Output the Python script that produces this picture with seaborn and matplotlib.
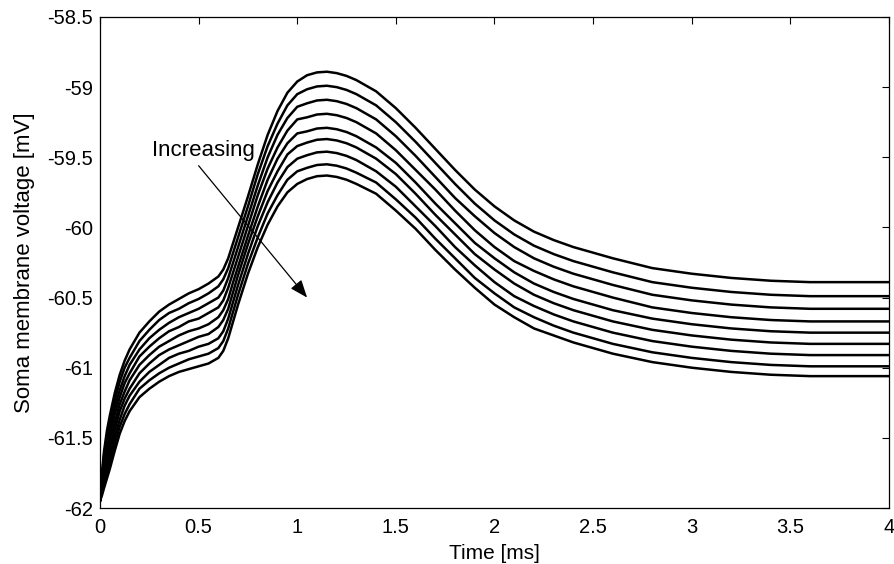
import numpy as np
import pandas as pd
import matplotlib
matplotlib.use("Agg")
import matplotlib.pyplot as plt
import seaborn as sns

# time axis [ms]
time_ms = [0, 0.01, 0.02, 0.035, 0.05, 0.075, 0.1, 0.125, 0.15,
           0.2, 0.25, 0.3, 0.35, 0.4, 0.45, 0.5, 0.55, 0.6,
           0.625, 0.65, 0.675, 0.7, 0.75, 0.8, 0.85, 0.9, 0.95, 1.0,
           1.05, 1.1, 1.15, 1.2, 1.25, 1.3, 1.4, 1.5, 1.6, 1.7,
           1.8, 1.9, 2.0, 2.1, 2.2, 2.3, 2.4, 2.6, 2.8, 3.0,
           3.2, 3.4, 3.6, 3.8, 4.0]

# soma membrane voltage [mV], one list per curve (top to bottom)
v1 = [-61.95, -61.75, -61.60, -61.45, -61.34, -61.18, -61.05, -60.95, -60.87,
      -60.75, -60.67, -60.60, -60.55, -60.51, -60.47, -60.44, -60.40, -60.35,
      -60.30, -60.22, -60.11, -60.00, -59.78, -59.55, -59.34, -59.17, -59.04, -58.96,
      -58.915, -58.895, -58.89, -58.90, -58.92, -58.95, -59.03, -59.15, -59.29, -59.44,
      -59.59, -59.73, -59.85, -59.95, -60.03, -60.09, -60.14, -60.22, -60.29, -60.33,
      -60.36, -60.38, -60.39, -60.39, -60.39]
v2 = [-61.95, -61.77, -61.63, -61.49, -61.39, -61.23, -61.10, -61.00, -60.93,
      -60.81, -60.73, -60.66, -60.61, -60.58, -60.54, -60.51, -60.47, -60.42,
      -60.37, -60.29, -60.18, -60.07, -59.85, -59.62, -59.42, -59.26, -59.13, -59.05,
      -59.015, -58.995, -58.99, -59.00, -59.02, -59.05, -59.13, -59.25, -59.39, -59.54,
      -59.69, -59.83, -59.95, -60.05, -60.13, -60.19, -60.24, -60.32, -60.39, -60.43,
      -60.46, -60.48, -60.49, -60.49, -60.49]
v3 = [-61.95, -61.79, -61.67, -61.54, -61.44, -61.28, -61.16, -61.06, -60.98,
      -60.87, -60.79, -60.73, -60.68, -60.64, -60.61, -60.58, -60.54, -60.50,
      -60.45, -60.36, -60.25, -60.14, -59.92, -59.70, -59.50, -59.34, -59.22, -59.14,
      -59.115, -59.095, -59.09, -59.10, -59.12, -59.15, -59.23, -59.35, -59.49, -59.64,
      -59.79, -59.92, -60.04, -60.14, -60.22, -60.28, -60.33, -60.41, -60.48, -60.52,
      -60.55, -60.57, -60.58, -60.58, -60.58]
v4 = [-61.95, -61.81, -61.70, -61.58, -61.48, -61.33, -61.21, -61.11, -61.04,
      -60.92, -60.85, -60.79, -60.74, -60.71, -60.67, -60.65, -60.61, -60.57,
      -60.52, -60.43, -60.32, -60.21, -59.99, -59.77, -59.58, -59.43, -59.31, -59.23,
      -59.215, -59.195, -59.19, -59.20, -59.22, -59.25, -59.33, -59.45, -59.59, -59.73,
      -59.88, -60.02, -60.14, -60.24, -60.31, -60.37, -60.42, -60.50, -60.57, -60.61,
      -60.64, -60.66, -60.67, -60.67, -60.67]
v5 = [-61.95, -61.83, -61.73, -61.62, -61.53, -61.39, -61.26, -61.17, -61.09,
      -60.98, -60.91, -60.85, -60.81, -60.77, -60.74, -60.72, -60.69, -60.64,
      -60.59, -60.51, -60.39, -60.28, -60.06, -59.85, -59.66, -59.51, -59.40, -59.33,
      -59.315, -59.295, -59.29, -59.30, -59.32, -59.35, -59.43, -59.54, -59.68, -59.83,
      -59.97, -60.11, -60.22, -60.32, -60.40, -60.46, -60.51, -60.59, -60.65, -60.69,
      -60.72, -60.74, -60.75, -60.75, -60.75]
v6 = [-61.95, -61.85, -61.76, -61.66, -61.58, -61.44, -61.31, -61.22, -61.15,
      -61.04, -60.97, -60.91, -60.87, -60.84, -60.81, -60.78, -60.76, -60.71,
      -60.66, -60.58, -60.46, -60.34, -60.12, -59.92, -59.74, -59.60, -59.48, -59.42,
      -59.395, -59.375, -59.37, -59.38, -59.40, -59.43, -59.51, -59.62, -59.76, -59.91,
      -60.05, -60.19, -60.30, -60.40, -60.48, -60.54, -60.59, -60.67, -60.73, -60.77,
      -60.80, -60.82, -60.83, -60.83, -60.83]
v7 = [-61.95, -61.87, -61.80, -61.71, -61.63, -61.49, -61.37, -61.27, -61.20,
      -61.10, -61.03, -60.98, -60.93, -60.90, -60.88, -60.85, -60.83, -60.79,
      -60.74, -60.65, -60.53, -60.41, -60.19, -59.99, -59.82, -59.68, -59.57, -59.51,
      -59.485, -59.465, -59.46, -59.47, -59.49, -59.52, -59.60, -59.71, -59.85, -59.99,
      -60.14, -60.27, -60.39, -60.49, -60.56, -60.62, -60.67, -60.75, -60.81, -60.85,
      -60.88, -60.90, -60.91, -60.91, -60.91]
v8 = [-61.95, -61.89, -61.83, -61.75, -61.67, -61.54, -61.42, -61.33, -61.26,
      -61.15, -61.09, -61.04, -61.00, -60.97, -60.94, -60.92, -60.90, -60.86,
      -60.81, -60.72, -60.60, -60.48, -60.26, -60.07, -59.90, -59.77, -59.66, -59.60,
      -59.575, -59.555, -59.55, -59.56, -59.58, -59.61, -59.68, -59.80, -59.93, -60.08,
      -60.22, -60.36, -60.47, -60.57, -60.64, -60.70, -60.75, -60.83, -60.89, -60.93,
      -60.96, -60.98, -60.99, -60.99, -60.99]
v9 = [-61.95, -61.91, -61.86, -61.79, -61.72, -61.59, -61.47, -61.38, -61.31,
      -61.21, -61.15, -61.10, -61.06, -61.03, -61.01, -60.99, -60.97, -60.93,
      -60.88, -60.79, -60.67, -60.55, -60.33, -60.14, -59.98, -59.85, -59.75, -59.69,
      -59.655, -59.635, -59.63, -59.64, -59.66, -59.69, -59.76, -59.88, -60.01, -60.16,
      -60.30, -60.43, -60.55, -60.64, -60.72, -60.77, -60.82, -60.90, -60.96, -61.00,
      -61.03, -61.05, -61.06, -61.06, -61.06]

curves = [v1, v2, v3, v4, v5, v6, v7, v8, v9]

x_ticks = [0, 0.5, 1, 1.5, 2, 2.5, 3, 3.5, 4]
x_tick_labels = ["0", "0.5", "1", "1.5", "2", "2.5", "3", "3.5", "4"]
y_ticks = [-62, -61.5, -61, -60.5, -60, -59.5, -59, -58.5]
y_tick_labels = ["-62", "-61.5", "-61", "-60.5", "-60", "-59.5", "-59", "-58.5"]

annot_text = "Increasing"
arrow_start = (0.50, -59.56)
arrow_end = (1.05, -60.50)
text_pos = (0.264, -59.45)

frames = []
for i, v in enumerate(curves):
    frames.append(pd.DataFrame({"time": time_ms, "voltage": v, "curve": i}))
df = pd.concat(frames, ignore_index=True)

sns.set_theme(style="white")
plt.rcParams["font.family"] = ["Liberation Sans", "DejaVu Sans"]

fig = plt.figure(figsize=(8.95, 5.64), dpi=100)
ax = fig.add_axes([100 / 895, 1 - 508 / 564, 789 / 895, 491 / 564])

sns.lineplot(data=df, x="time", y="voltage", units="curve", estimator=None,
             color="black", linewidth=1.8, ax=ax, legend=False)

ax.set_xlim(0, 4)
ax.set_ylim(-62, -58.5)
ax.set_xticks(x_ticks)
ax.set_xticklabels(x_tick_labels)
ax.set_yticks(y_ticks)
ax.set_yticklabels(y_tick_labels)
ax.tick_params(direction="in", length=5, width=0.8, top=True, right=True,
               labelsize=14.5, colors="black")
ax.tick_params(axis="x", pad=7)
ax.tick_params(axis="y", pad=5)
for s in ax.spines.values():
    s.set_color("black")
    s.set_linewidth(0.9)
    s.set_visible(True)

ax.set_xlabel("Time [ms]", fontsize=15, color="black")
ax.set_ylabel("Soma membrane voltage [mV]", fontsize=16, color="black")
ax.xaxis.set_label_coords(0.5, -0.074)
ax.yaxis.set_label_coords(-0.083, 0.5)

ax.text(text_pos[0], text_pos[1], annot_text, fontsize=16, ha="left", va="center",
        color="black")
ax.annotate("", xy=arrow_end, xytext=arrow_start,
            arrowprops=dict(arrowstyle="-|>,head_length=0.9,head_width=0.35",
                            color="black", lw=0.9, shrinkA=0, shrinkB=0))

ax.set_facecolor("white")
fig.patch.set_facecolor("white")
fig.savefig("out.png", dpi=100, facecolor="white")
